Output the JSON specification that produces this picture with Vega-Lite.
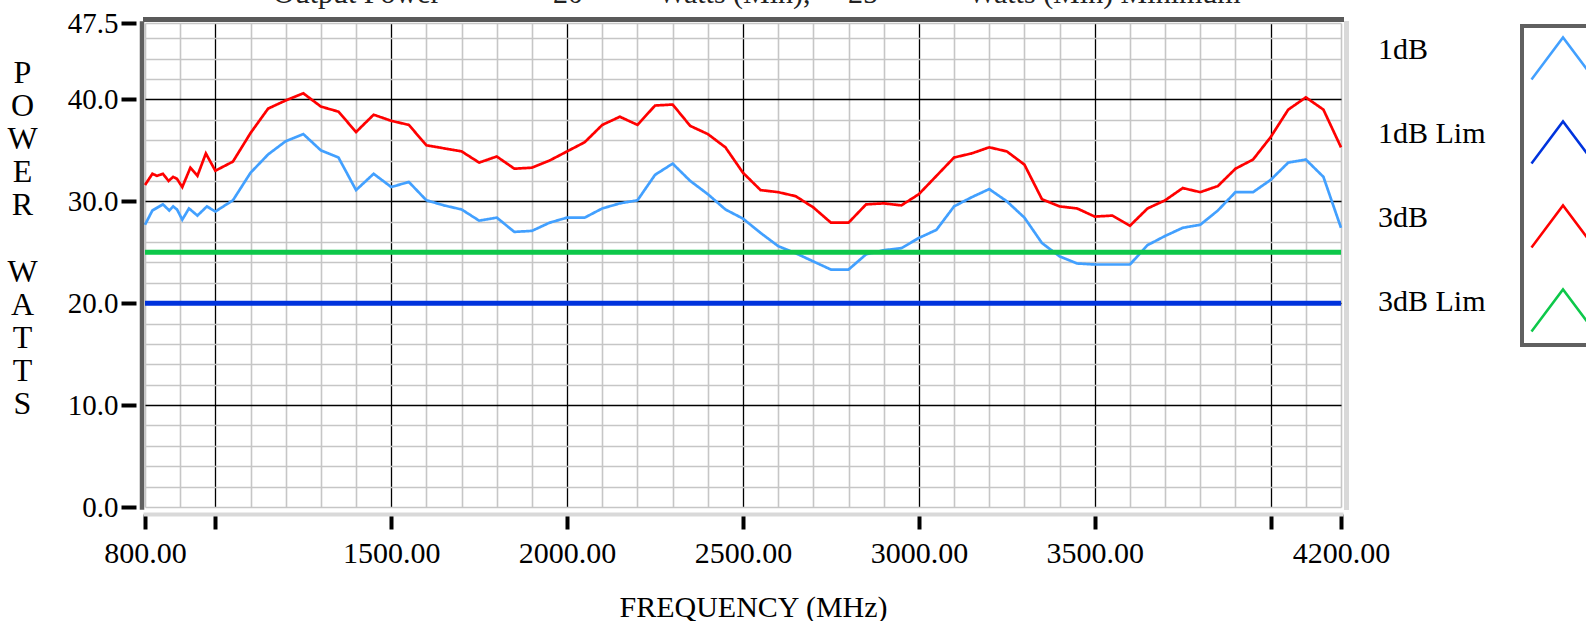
{
  "$schema": "https://vega.github.io/schema/vega-lite/v6.json",
  "width": 1196,
  "height": 484,
  "autosize": {"type": "none"},
  "padding": {"left": 145, "top": 23, "right": 245, "bottom": 114},
  "background": "white",
  "config": {"view": {"stroke": null}, "font": "Liberation Serif"},
  "title": {
    "text": "Output Power\u00a0\u00a0\u00a0\u00a0\u00a0\u00a0\u00a0\u00a0\u00a0\u00a0\u00a0\u00a0\u00a0\u00a0\u00a020\u00a0\u00a0\u00a0\u00a0\u00a0\u00a0\u00a0\u00a0\u00a0\u00a0Watts (Min),\u00a0\u00a0\u00a0\u00a0\u00a025\u00a0\u00a0\u00a0\u00a0\u00a0\u00a0\u00a0\u00a0\u00a0\u00a0\u00a0\u00a0Watts (Min) Minimum",
    "anchor": "start", "frame": "group", "dx": 128, "dy": 26, "offset": 2,
    "fontSize": 30, "font": "Liberation Serif", "fontWeight": "normal", "color": "#222", "baseline": "alphabetic"
  },
  "data": {"values": [
    {"s":"3dB","name":"3dB","f":800,"p":31.6},{"s":"3dB","name":"3dB","f":821,"p":32.7},{"s":"3dB","name":"3dB","f":834,"p":32.5},{"s":"3dB","name":"3dB","f":851,"p":32.7},{"s":"3dB","name":"3dB","f":867,"p":32.0},{"s":"3dB","name":"3dB","f":880,"p":32.4},{"s":"3dB","name":"3dB","f":891,"p":32.2},{"s":"3dB","name":"3dB","f":906,"p":31.4},{"s":"3dB","name":"3dB","f":929,"p":33.3},{"s":"3dB","name":"3dB","f":949,"p":32.5},{"s":"3dB","name":"3dB","f":973,"p":34.7},{"s":"3dB","name":"3dB","f":1000,"p":33.0},
    {"s":"3dB","name":"3dB","f":1050,"p":33.9},{"s":"3dB","name":"3dB","f":1100,"p":36.7},{"s":"3dB","name":"3dB","f":1150,"p":39.1},{"s":"3dB","name":"3dB","f":1200,"p":39.9},{"s":"3dB","name":"3dB","f":1250,"p":40.6},{"s":"3dB","name":"3dB","f":1300,"p":39.3},{"s":"3dB","name":"3dB","f":1350,"p":38.8},{"s":"3dB","name":"3dB","f":1400,"p":36.8},{"s":"3dB","name":"3dB","f":1450,"p":38.5},{"s":"3dB","name":"3dB","f":1500,"p":37.9},
    {"s":"3dB","name":"3dB","f":1550,"p":37.5},{"s":"3dB","name":"3dB","f":1600,"p":35.5},{"s":"3dB","name":"3dB","f":1650,"p":35.2},{"s":"3dB","name":"3dB","f":1700,"p":34.9},{"s":"3dB","name":"3dB","f":1750,"p":33.8},{"s":"3dB","name":"3dB","f":1800,"p":34.4},{"s":"3dB","name":"3dB","f":1850,"p":33.2},{"s":"3dB","name":"3dB","f":1900,"p":33.3},{"s":"3dB","name":"3dB","f":1950,"p":34.0},{"s":"3dB","name":"3dB","f":2000,"p":34.9},
    {"s":"3dB","name":"3dB","f":2050,"p":35.8},{"s":"3dB","name":"3dB","f":2100,"p":37.5},{"s":"3dB","name":"3dB","f":2150,"p":38.3},{"s":"3dB","name":"3dB","f":2200,"p":37.5},{"s":"3dB","name":"3dB","f":2250,"p":39.4},{"s":"3dB","name":"3dB","f":2300,"p":39.5},{"s":"3dB","name":"3dB","f":2350,"p":37.4},{"s":"3dB","name":"3dB","f":2400,"p":36.6},{"s":"3dB","name":"3dB","f":2450,"p":35.3},{"s":"3dB","name":"3dB","f":2500,"p":32.8},
    {"s":"3dB","name":"3dB","f":2550,"p":31.1},{"s":"3dB","name":"3dB","f":2600,"p":30.9},{"s":"3dB","name":"3dB","f":2650,"p":30.5},{"s":"3dB","name":"3dB","f":2700,"p":29.4},{"s":"3dB","name":"3dB","f":2750,"p":27.9},{"s":"3dB","name":"3dB","f":2800,"p":27.9},{"s":"3dB","name":"3dB","f":2850,"p":29.7},{"s":"3dB","name":"3dB","f":2900,"p":29.8},{"s":"3dB","name":"3dB","f":2950,"p":29.6},{"s":"3dB","name":"3dB","f":3000,"p":30.7},
    {"s":"3dB","name":"3dB","f":3050,"p":32.5},{"s":"3dB","name":"3dB","f":3100,"p":34.3},{"s":"3dB","name":"3dB","f":3150,"p":34.7},{"s":"3dB","name":"3dB","f":3200,"p":35.3},{"s":"3dB","name":"3dB","f":3250,"p":34.9},{"s":"3dB","name":"3dB","f":3300,"p":33.6},{"s":"3dB","name":"3dB","f":3350,"p":30.2},{"s":"3dB","name":"3dB","f":3400,"p":29.5},{"s":"3dB","name":"3dB","f":3450,"p":29.3},{"s":"3dB","name":"3dB","f":3500,"p":28.5},
    {"s":"3dB","name":"3dB","f":3550,"p":28.6},{"s":"3dB","name":"3dB","f":3600,"p":27.6},{"s":"3dB","name":"3dB","f":3650,"p":29.3},{"s":"3dB","name":"3dB","f":3700,"p":30.1},{"s":"3dB","name":"3dB","f":3750,"p":31.3},{"s":"3dB","name":"3dB","f":3800,"p":30.9},{"s":"3dB","name":"3dB","f":3850,"p":31.5},{"s":"3dB","name":"3dB","f":3900,"p":33.2},{"s":"3dB","name":"3dB","f":3950,"p":34.1},{"s":"3dB","name":"3dB","f":4000,"p":36.3},
    {"s":"3dB","name":"3dB","f":4050,"p":39.0},{"s":"3dB","name":"3dB","f":4100,"p":40.2},{"s":"3dB","name":"3dB","f":4150,"p":39.0},{"s":"3dB","name":"3dB","f":4200,"p":35.3},
    {"s":"1dB","name":"1dB","f":800,"p":27.7},{"s":"1dB","name":"1dB","f":821,"p":29.1},{"s":"1dB","name":"1dB","f":851,"p":29.7},{"s":"1dB","name":"1dB","f":869,"p":29.1},{"s":"1dB","name":"1dB","f":880,"p":29.5},{"s":"1dB","name":"1dB","f":891,"p":29.2},{"s":"1dB","name":"1dB","f":906,"p":28.2},{"s":"1dB","name":"1dB","f":925,"p":29.3},{"s":"1dB","name":"1dB","f":949,"p":28.6},{"s":"1dB","name":"1dB","f":976,"p":29.5},{"s":"1dB","name":"1dB","f":1000,"p":29.0},
    {"s":"1dB","name":"1dB","f":1050,"p":30.1},{"s":"1dB","name":"1dB","f":1100,"p":32.8},{"s":"1dB","name":"1dB","f":1150,"p":34.6},{"s":"1dB","name":"1dB","f":1200,"p":35.9},{"s":"1dB","name":"1dB","f":1250,"p":36.6},{"s":"1dB","name":"1dB","f":1300,"p":35.0},{"s":"1dB","name":"1dB","f":1350,"p":34.3},{"s":"1dB","name":"1dB","f":1400,"p":31.1},{"s":"1dB","name":"1dB","f":1450,"p":32.7},{"s":"1dB","name":"1dB","f":1500,"p":31.4},
    {"s":"1dB","name":"1dB","f":1550,"p":31.9},{"s":"1dB","name":"1dB","f":1600,"p":30.1},{"s":"1dB","name":"1dB","f":1650,"p":29.6},{"s":"1dB","name":"1dB","f":1700,"p":29.2},{"s":"1dB","name":"1dB","f":1750,"p":28.1},{"s":"1dB","name":"1dB","f":1800,"p":28.4},{"s":"1dB","name":"1dB","f":1850,"p":27.0},{"s":"1dB","name":"1dB","f":1900,"p":27.1},{"s":"1dB","name":"1dB","f":1950,"p":27.9},{"s":"1dB","name":"1dB","f":2000,"p":28.4},
    {"s":"1dB","name":"1dB","f":2050,"p":28.4},{"s":"1dB","name":"1dB","f":2100,"p":29.3},{"s":"1dB","name":"1dB","f":2150,"p":29.8},{"s":"1dB","name":"1dB","f":2200,"p":30.1},{"s":"1dB","name":"1dB","f":2250,"p":32.6},{"s":"1dB","name":"1dB","f":2300,"p":33.7},{"s":"1dB","name":"1dB","f":2350,"p":32.0},{"s":"1dB","name":"1dB","f":2400,"p":30.7},{"s":"1dB","name":"1dB","f":2450,"p":29.2},{"s":"1dB","name":"1dB","f":2500,"p":28.3},
    {"s":"1dB","name":"1dB","f":2550,"p":26.9},{"s":"1dB","name":"1dB","f":2600,"p":25.6},{"s":"1dB","name":"1dB","f":2650,"p":24.9},{"s":"1dB","name":"1dB","f":2700,"p":24.1},{"s":"1dB","name":"1dB","f":2750,"p":23.3},{"s":"1dB","name":"1dB","f":2800,"p":23.3},{"s":"1dB","name":"1dB","f":2850,"p":24.8},{"s":"1dB","name":"1dB","f":2900,"p":25.2},{"s":"1dB","name":"1dB","f":2950,"p":25.4},{"s":"1dB","name":"1dB","f":3000,"p":26.4},
    {"s":"1dB","name":"1dB","f":3050,"p":27.2},{"s":"1dB","name":"1dB","f":3100,"p":29.5},{"s":"1dB","name":"1dB","f":3150,"p":30.4},{"s":"1dB","name":"1dB","f":3200,"p":31.2},{"s":"1dB","name":"1dB","f":3250,"p":30.0},{"s":"1dB","name":"1dB","f":3300,"p":28.4},{"s":"1dB","name":"1dB","f":3350,"p":25.9},{"s":"1dB","name":"1dB","f":3400,"p":24.6},{"s":"1dB","name":"1dB","f":3450,"p":23.9},{"s":"1dB","name":"1dB","f":3500,"p":23.8},
    {"s":"1dB","name":"1dB","f":3550,"p":23.8},{"s":"1dB","name":"1dB","f":3600,"p":23.8},{"s":"1dB","name":"1dB","f":3650,"p":25.7},{"s":"1dB","name":"1dB","f":3700,"p":26.6},{"s":"1dB","name":"1dB","f":3750,"p":27.4},{"s":"1dB","name":"1dB","f":3800,"p":27.7},{"s":"1dB","name":"1dB","f":3850,"p":29.1},{"s":"1dB","name":"1dB","f":3900,"p":30.9},{"s":"1dB","name":"1dB","f":3950,"p":30.9},{"s":"1dB","name":"1dB","f":4000,"p":32.1},
    {"s":"1dB","name":"1dB","f":4050,"p":33.8},{"s":"1dB","name":"1dB","f":4100,"p":34.1},{"s":"1dB","name":"1dB","f":4150,"p":32.4},{"s":"1dB","name":"1dB","f":4200,"p":27.4},
    {"s":"1dB Lim","name":"1dB Lim","f":800,"p":20},{"s":"1dB Lim","name":"1dB Lim","f":4200,"p":20},
    {"s":"3dB Lim","name":"3dB Lim","f":800,"p":25},{"s":"3dB Lim","name":"3dB Lim","f":4200,"p":25}
  ]},
  "resolve": {"axis": {"x": "independent", "y": "independent"}},
  "encoding": {
    "color": {
      "field": "s", "type": "nominal",
      "scale": {"domain": ["1dB", "1dB Lim", "3dB", "3dB Lim"], "range": ["#42a0ff", "#0033dd", "#ff0000", "#0dc84a"]},
      "legend": {
        "orient": "none", "legendX": 1377, "legendY": 3, "title": null,
        "symbolType": "M-1,0.4L0,-0.94L1,0.4", "symbolSize": 3969, "symbolStrokeWidth": 2.5,
        "symbolFillColor": "transparent", "labelExpr": "''", "labelFontSize": 1, "labelOffset": 0,
        "padding": 8, "rowPadding": 31, "strokeColor": "#606060",
        "encode": {"legend": {"update": {"strokeWidth": {"value": 4}}}}
      }
    },
    "strokeDash": {
      "field": "name", "type": "nominal",
      "scale": {"range": [[1, 0], [1, 0], [1, 0], [1, 0]]},
      "legend": {
        "orient": "none", "legendX": 1203, "legendY": 12, "title": null,
        "symbolOpacity": 0, "symbolSize": 1, "labelOffset": 0, "labelFont": "Liberation Serif",
        "labelFontSize": 30, "labelColor": "#000", "rowPadding": 54, "padding": 0
      }
    }
  },
  "layer": [
    {
      "transform": [{"filter": "datum.s === '1dB'"}],
      "mark": {"type": "line", "strokeWidth": 2.7},
      "encoding": {
        "x": {
          "field": "f", "type": "quantitative",
          "scale": {"domain": [800, 4200], "nice": false, "zero": false},
          "axis": {
            "orient": "bottom", "offset": 7,
            "values": [800,900,1000,1100,1200,1300,1400,1500,1600,1700,1800,1900,2000,2100,2200,2300,2400,2500,2600,2700,2800,2900,3000,3100,3200,3300,3400,3500,3600,3700,3800,3900,4000,4100,4200],
            "domainColor": "#d9d9d9", "domainWidth": 4, "domainCap": "square",
            "grid": true,
            "gridColor": {"condition": {"test": "datum.value % 500 === 0", "value": "#000000"}, "value": "#c6c6c6"},
            "gridWidth": {"condition": {"test": "datum.value % 500 === 0", "value": 1.3}, "value": 1.6},
            "tickColor": {"condition": {"test": "datum.value % 500 === 0 || datum.value === 800 || datum.value === 4200", "value": "#000000"}, "value": "transparent"},
            "tickWidth": 4, "tickSize": 15,
            "labelExpr": "indexof([800,1500,2000,2500,3000,3500,4200], datum.value) >= 0 ? format(datum.value, '.2f') : ''",
            "labelFont": "Liberation Serif", "labelFontSize": 30, "labelColor": "#000", "labelPadding": 9,
            "labelFlush": false, "labelOverlap": false,
            "title": "FREQUENCY (MHz)", "titleFont": "Liberation Serif", "titleFontSize": 30, "titleFontWeight": "normal",
            "titleColor": "#000", "titleX": 608, "titleY": 93, "titleBaseline": "middle", "titleAlign": "center"
          }
        },
        "y": {
          "field": "p", "type": "quantitative",
          "scale": {"domain": [0, 47.5], "nice": false, "zero": false},
          "axis": {
            "orient": "left", "offset": 9, "domain": false,
            "values": [0,2,4,6,8,10,12,14,16,18,20,22,24,26,28,30,32,34,36,38,40,42,44,46,47.5],
            "grid": true,
            "gridColor": {"condition": {"test": "datum.value % 10 === 0 && datum.value > 0", "value": "#000000"}, "value": "#c6c6c6"},
            "gridWidth": {"condition": {"test": "datum.value % 10 === 0 && datum.value > 0", "value": 1.3}, "value": 1.6},
            "tickColor": {"condition": {"test": "datum.value % 10 === 0 || datum.value === 47.5", "value": "#000000"}, "value": "transparent"},
            "tickWidth": 4, "tickSize": 15,
            "labelExpr": "(datum.value % 10 === 0 || datum.value === 47.5) ? format(datum.value, '.1f') : ''",
            "labelFont": "Liberation Serif", "labelFontSize": 29, "labelColor": "#000", "labelPadding": 3,
            "labelOverlap": false,
            "title": ["P", "O", "W", "E", "R"],
            "titleFont": "Liberation Serif", "titleFontSize": 32, "titleFontWeight": "normal", "titleColor": "#000",
            "titleAngle": 0, "titleX": -114, "titleY": 34, "titleAlign": "center", "titleBaseline": "top", "titleLineHeight": 33.2
          }
        }
      }
    },
    {
      "transform": [{"filter": "datum.s === '3dB'"}],
      "mark": {"type": "line", "strokeWidth": 2.7},
      "encoding": {
        "x": {"field": "f", "type": "quantitative", "scale": {"domain": [800, 4200], "nice": false, "zero": false}, "axis": null},
        "y": {
          "field": "p", "type": "quantitative", "scale": {"domain": [0, 47.5], "nice": false, "zero": false},
          "axis": {"orient": "left", "offset": 3.5, "domainColor": "#606060", "domainWidth": 4.5, "domainCap": "square",
                   "ticks": false, "labels": false, "grid": false, "zindex": 1,
                   "title": ["W", "A", "T", "T", "S"],
                   "titleFont": "Liberation Serif", "titleFontSize": 32, "titleFontWeight": "normal", "titleColor": "#000",
                   "titleAngle": 0, "titleX": -119.5, "titleY": 233.2, "titleAlign": "center", "titleBaseline": "top", "titleLineHeight": 33.2}
        }
      }
    },
    {
      "transform": [{"filter": "datum.s === '1dB Lim' || datum.s === '3dB Lim'"}],
      "mark": {"type": "line", "strokeWidth": 5},
      "encoding": {
        "x": {
          "field": "f", "type": "quantitative", "scale": {"domain": [800, 4200], "nice": false, "zero": false},
          "axis": {"orient": "top", "offset": 4, "domainColor": "#5a5a5a", "domainWidth": 5, "domainCap": "square",
                   "ticks": false, "labels": false, "grid": false, "title": null, "zindex": 1}
        },
        "y": {
          "field": "p", "type": "quantitative", "scale": {"domain": [0, 47.5], "nice": false, "zero": false},
          "axis": {"orient": "right", "offset": 5, "domainColor": "#d9d9d9", "domainWidth": 5, "domainCap": "square",
                   "ticks": false, "labels": false, "grid": false, "title": null, "zindex": 1}
        }
      }
    }
  ]
}
